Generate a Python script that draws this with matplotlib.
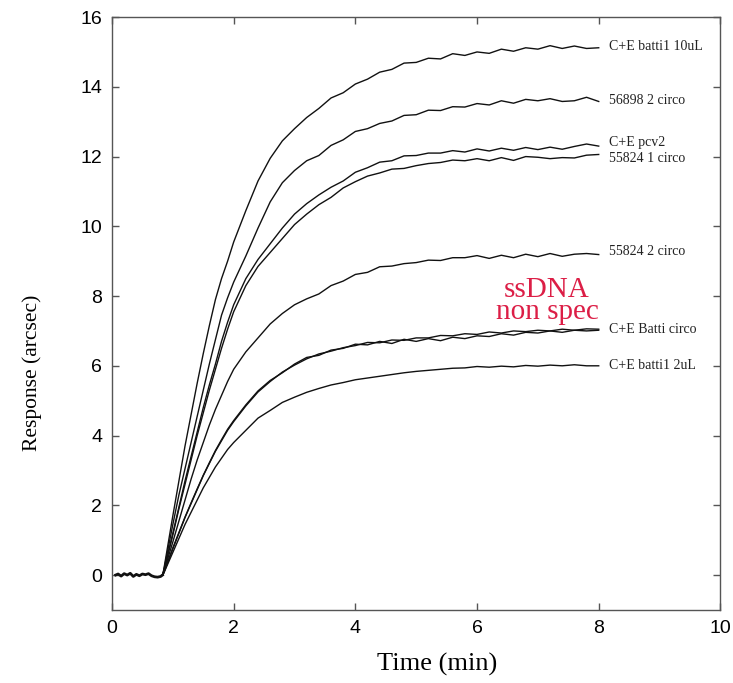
import numpy as np
import matplotlib
matplotlib.use("Agg")
import matplotlib.pyplot as plt

# Baseline before injection (all traces overlap here)
base_t = [0.06, 0.1, 0.15, 0.2, 0.25, 0.3, 0.35, 0.4, 0.45, 0.5, 0.55, 0.6, 0.65, 0.7, 0.75, 0.8, 0.83]
base_y = [0.0, 0.03, -0.03, 0.04, 0.0, 0.05, -0.04, 0.02, -0.02, 0.03, 0.01, 0.04, -0.02, -0.05, -0.06, -0.04, 0.0]

# Common time grid for the association phase (min)
rise_t = [0.85, 1.0, 1.1, 1.2, 1.3, 1.4, 1.5, 1.6, 1.7, 1.8, 1.9, 2.0,
          2.2, 2.4, 2.6, 2.8, 3.0, 3.2, 3.4, 3.6, 3.8, 4.0, 4.2, 4.4, 4.6, 4.8,
          5.0, 5.2, 5.4, 5.6, 5.8, 6.0, 6.2, 6.4, 6.6, 6.8, 7.0, 7.2, 7.4, 7.6, 7.8, 8.0]

batti1_10uL = [0.15, 1.7, 2.7, 3.7, 4.6, 5.5, 6.35, 7.15, 7.9, 8.5, 9.0, 9.55,
               10.45, 11.3, 11.95, 12.45, 12.8, 13.12, 13.38, 13.68, 13.83, 14.08, 14.22, 14.42, 14.5, 14.68,
               14.7, 14.82, 14.8, 14.95, 14.9, 15.0, 14.96, 15.08, 15.02, 15.12, 15.08, 15.18, 15.1, 15.17, 15.1, 15.12]
c56898_2 = [0.12, 1.45, 2.3, 3.05, 3.8, 4.55, 5.3, 6.05, 6.75, 7.45, 7.95, 8.4,
            9.15, 9.95, 10.7, 11.25, 11.6, 11.88, 12.03, 12.32, 12.48, 12.72, 12.8, 12.95, 13.02, 13.18,
            13.2, 13.33, 13.32, 13.43, 13.42, 13.52, 13.48, 13.6, 13.53, 13.64, 13.6, 13.66, 13.58, 13.6, 13.7, 13.58]
pcv2 = [0.1, 1.2, 1.95, 2.7, 3.4, 4.1, 4.8, 5.45, 6.05, 6.7, 7.25, 7.75,
        8.5, 9.05, 9.5, 9.95, 10.35, 10.65, 10.9, 11.12, 11.3, 11.55, 11.68, 11.84, 11.88, 12.02,
        12.03, 12.1, 12.1, 12.17, 12.13, 12.22, 12.16, 12.24, 12.18, 12.26, 12.2, 12.27, 12.21, 12.29, 12.36, 12.3]
c55824_1 = [0.1, 1.15, 1.9, 2.6, 3.3, 4.0, 4.65, 5.3, 5.9, 6.5, 7.05, 7.55,
            8.3, 8.85, 9.25, 9.65, 10.05, 10.35, 10.62, 10.83, 11.1, 11.28, 11.44, 11.53, 11.64, 11.66,
            11.74, 11.8, 11.83, 11.9, 11.88, 11.94, 11.88, 11.97, 11.89, 12.0, 11.98, 11.94, 11.97, 11.96, 12.04, 12.06]
c55824_2 = [0.08, 0.95, 1.55, 2.15, 2.75, 3.3, 3.8, 4.3, 4.75, 5.15, 5.55, 5.9,
            6.4, 6.8, 7.2, 7.5, 7.75, 7.92, 8.06, 8.3, 8.43, 8.62, 8.68, 8.84, 8.86, 8.93,
            8.96, 9.03, 9.02, 9.1, 9.1, 9.16, 9.08, 9.17, 9.1, 9.2, 9.13, 9.22, 9.14, 9.2, 9.22, 9.19]
batti_circo_a = [0.06, 0.75, 1.2, 1.65, 2.05, 2.45, 2.85, 3.2, 3.55, 3.85, 4.15, 4.4,
                 4.85, 5.25, 5.55, 5.82, 6.02, 6.2, 6.34, 6.42, 6.52, 6.58, 6.67, 6.66, 6.74, 6.73,
                 6.8, 6.8, 6.87, 6.86, 6.92, 6.9, 6.97, 6.94, 7.0, 6.98, 7.02, 7.0, 7.05, 7.02, 7.06, 7.05]
batti_circo_b = [0.06, 0.78, 1.22, 1.66, 2.07, 2.47, 2.86, 3.22, 3.57, 3.88, 4.18, 4.43,
                 4.88, 5.28, 5.58, 5.8, 6.05, 6.24, 6.3, 6.45, 6.5, 6.62, 6.6, 6.7, 6.64, 6.76,
                 6.7, 6.78, 6.72, 6.82, 6.78, 6.86, 6.84, 6.92, 6.88, 6.96, 6.94, 7.0, 6.96, 7.02, 7.0, 7.02]
batti1_2uL = [0.05, 0.65, 1.05, 1.45, 1.8, 2.15, 2.5, 2.8, 3.1, 3.35, 3.6, 3.8,
              4.15, 4.5, 4.72, 4.95, 5.1, 5.24, 5.35, 5.45, 5.52, 5.6, 5.65, 5.7, 5.75, 5.8,
              5.84, 5.87, 5.9, 5.93, 5.94, 5.98, 5.96, 5.99, 5.97, 6.01, 5.99, 6.02, 6.0, 6.03, 6.0, 6.0]

curves = [batti1_10uL, c56898_2, pcv2, c55824_1, c55824_2, batti_circo_a, batti_circo_b, batti1_2uL]

# curve labels and the response level they sit at
labels = ["C+E batti1 10uL", "56898 2 circo", "C+E pcv2", "55824 1 circo",
          "55824 2 circo", "C+E Batti circo", "C+E batti1 2uL"]
label_y = [15.15, 13.6, 12.4, 11.95, 9.28, 7.05, 6.0]

serif = "Liberation Serif"
sans = "Liberation Sans"

fig = plt.figure(figsize=(7.33, 6.83), dpi=100)
ax = fig.add_axes([0.1528, 0.107, 0.83, 0.868])

ax.plot(base_t, base_y, color="#111111", lw=2.0)
for ys in curves:
    ax.plot([base_t[-1]] + rise_t, [0.0] + ys, color="#111111", lw=1.0)

for lab, ly in zip(labels, label_y):
    ax.text(8.17, ly, lab, fontsize=10, family=serif, color="#222222", va="center", ha="left")

ax.text(7.15, 7.85, "ssDNA\nnon spec", fontsize=21, family=serif, color="#dc1e46",
        ha="center", va="center", linespacing=0.8)

ax.set_xlim(0, 10)
ax.set_ylim(-1, 16)
ax.set_xticks([0, 2, 4, 6, 8, 10])
ax.set_yticks([0, 2, 4, 6, 8, 10, 12, 14, 16])
ax.tick_params(direction="in", length=5, width=1, top=True, right=True,
               labelsize=14, color="#555555", pad=7)
for lab in ax.get_xticklabels() + ax.get_yticklabels():
    lab.set_family(sans)
for sp in ax.spines.values():
    sp.set_color("#555555")
    sp.set_linewidth(1.0)

ax.set_xlabel("Time (min)", fontsize=19, family=serif)
ax.set_ylabel("Response (arcsec)", fontsize=15.5, family=serif)
ax.xaxis.set_label_coords(0.535, -0.072)
ax.yaxis.set_label_coords(-0.115, 0.4)

fig.savefig("out.png", dpi=100)
